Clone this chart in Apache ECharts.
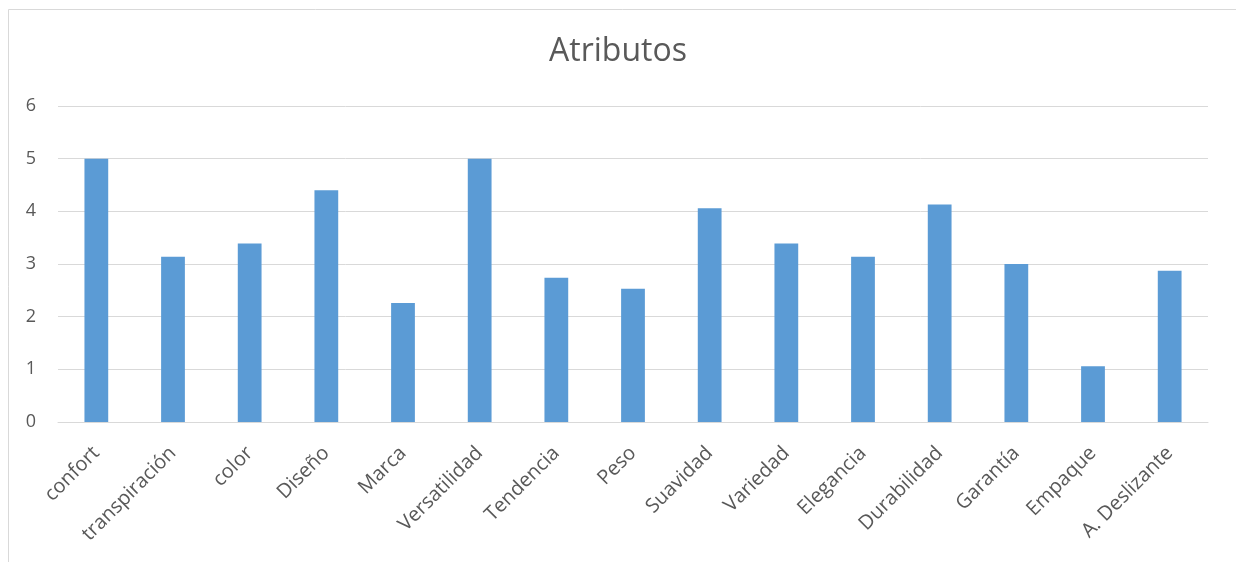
<!DOCTYPE html>
<html>
<head>
<meta charset="utf-8">
<script src="https://cdn.jsdelivr.net/npm/echarts@6/dist/echarts.min.js"></script>
<style>html,body{margin:0;padding:0;background:#fff}#c{width:1236px;height:562px}</style>
</head>
<body>
<div id="c"></div>
<script>
const categories = ["confort","transpiración","color","Diseño","Marca","Versatilidad","Tendencia","Peso","Suavidad","Variedad","Elegancia","Durabilidad","Garantía","Empaque","A. Deslizante"];
const values = [5.0,3.14,3.39,4.40,2.26,5.0,2.74,2.53,4.06,3.39,3.14,4.13,3.0,1.06,2.87];
const yTicks = {min:0,max:6,interval:1};

const chart = echarts.init(document.getElementById('c'));
chart.setOption({
  backgroundColor:'#fff',
  animation:false,
  graphic:[{type:'rect',left:6,top:7,shape:{width:1300,height:700},style:{fill:'none',stroke:'#d9d9d9',lineWidth:1},silent:true,z:-1}],
  title:{text:'Atributos',left:'center',top:31,textStyle:{fontFamily:'Open Sans',fontSize:32,fontWeight:'normal',color:'#595959'}},
  grid:{left:58,right:28,top:106,bottom:140,containLabel:false},
  xAxis:{type:'category',data:categories,
    axisLine:{lineStyle:{color:'#d9d9d9',width:1}},axisTick:{show:false},
    axisLabel:{rotate:45,interval:0,fontFamily:'Open Sans',fontSize:20,color:'#595959',margin:28}},
  yAxis:{type:'value',min:yTicks.min,max:yTicks.max,interval:yTicks.interval,
    axisLine:{show:false},axisTick:{show:false},
    splitLine:{lineStyle:{color:'#d9d9d9',width:1}},
    axisLabel:{fontFamily:'Open Sans',fontSize:18,color:'#595959',margin:22}},
  series:[{type:'bar',data:values,barWidth:'31%',itemStyle:{color:'#5b9bd5'}}]
});
</script>
</body>
</html>
